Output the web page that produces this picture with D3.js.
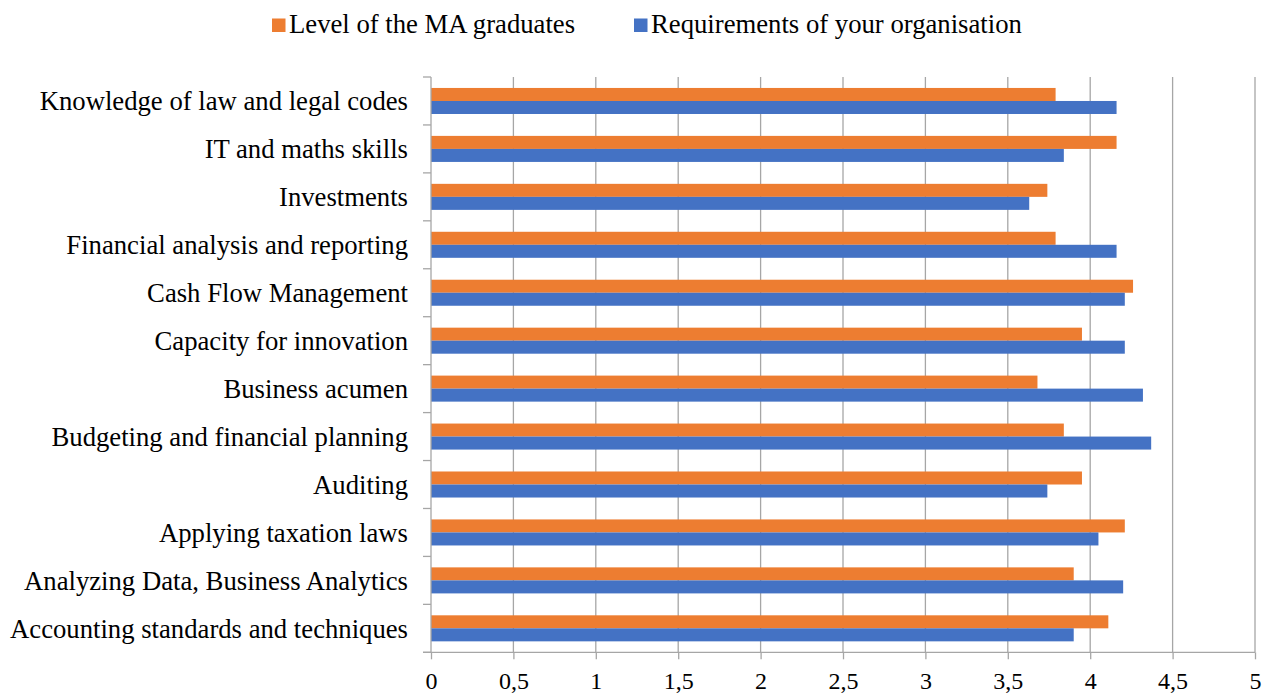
<!DOCTYPE html>
<html>
<head>
<meta charset="utf-8">
<script src="https://cdn.jsdelivr.net/npm/d3@7"></script>
<style>
  body { margin: 0; background: #fff; }
  text { font-family: "Liberation Serif", "Times New Roman", serif; fill: #000; }
</style>
</head>
<body>
<div id="chart"></div>
<script>
////////////////////////////////////////////////////////////////////////
// Chart data, top to bottom as shown
////////////////////////////////////////////////////////////////////////
var categories = [
  "Knowledge of law and legal codes",
  "IT and maths skills ",
  "Investments",
  "Financial analysis and reporting",
  "Cash Flow Management",
  "Capacity for innovation",
  "Business acumen ",
  "Budgeting and financial planning",
  "Auditing ",
  "Applying taxation laws ",
  "Analyzing Data, Business Analytics",
  "Accounting standards and techniques"
];
var seriesNames = ["Level of the MA graduates", "Requirements of your organisation"];
var levelValues = [3.79, 4.16, 3.74, 3.79, 4.26, 3.95, 3.68, 3.84, 3.95, 4.21, 3.90, 4.11];
var requiredValues = [4.16, 3.84, 3.63, 4.16, 4.21, 4.21, 4.32, 4.37, 3.74, 4.05, 4.20, 3.90];
var tickValues = [0, 0.5, 1, 1.5, 2, 2.5, 3, 3.5, 4, 4.5, 5];
var seriesColors = ["#ED7D31", "#4472C4"];

var width = 1263, height = 695;
var margin = {top: 77, right: 8, bottom: 43, left: 431};

var svg = d3.select("#chart").append("svg")
  .attr("width", width)
  .attr("height", height);

var x = d3.scaleLinear().domain([0, 5]).range([margin.left, 1255]);
var y = d3.scaleBand().domain(categories)
  .range([margin.top, height - margin.bottom + 0.3])
  .paddingInner(0.457).paddingOuter(0.2285);
var ySub = d3.scaleBand().domain(seriesNames).range([0, y.bandwidth()]);

var gridColor = "#a6a6a6";
var plotTop = y.range()[0], plotBottom = y.range()[1];

// vertical gridlines
svg.append("g").selectAll("line")
  .data(tickValues.slice(1))
  .enter().append("line")
  .attr("x1", d => x(d)).attr("x2", d => x(d))
  .attr("y1", plotTop).attr("y2", plotBottom)
  .attr("stroke", gridColor).attr("stroke-width", 1.3);

// bars
var rows = categories.map((c, i) => ({cat: c, vals: [levelValues[i], requiredValues[i]]}));
var rowG = svg.append("g").selectAll("g")
  .data(rows).enter().append("g")
  .attr("transform", d => "translate(0," + y(d.cat) + ")");
rowG.selectAll("rect")
  .data(d => d.vals.map((v, k) => ({name: seriesNames[k], v: v, k: k})))
  .enter().append("rect")
  .attr("x", x(0))
  .attr("y", d => ySub(d.name))
  .attr("width", d => x(d.v) - x(0))
  .attr("height", ySub.bandwidth())
  .attr("fill", d => seriesColors[d.k]);

// left axis line and category ticks
svg.append("line")
  .attr("x1", x(0)).attr("x2", x(0))
  .attr("y1", plotTop).attr("y2", plotBottom)
  .attr("stroke", gridColor).attr("stroke-width", 1.3);
var bounds = d3.range(categories.length + 1).map(i => plotTop + i * y.step());
svg.append("g").selectAll("line")
  .data(bounds).enter().append("line")
  .attr("x1", x(0) - 8).attr("x2", x(0))
  .attr("y1", d => d).attr("y2", d => d)
  .attr("stroke", gridColor).attr("stroke-width", 1.3);

// category labels
svg.append("g").selectAll("text")
  .data(categories).enter().append("text")
  .attr("x", 408)
  .attr("y", d => y(d) + y.bandwidth() / 2)
  .attr("dy", "0.35em")
  .attr("text-anchor", "end")
  .style("font-size", "26.7px")
  .text(d => d);

// bottom axis
var xAxis = d3.axisBottom(x)
  .tickValues(tickValues)
  .tickSize(7)
  .tickPadding(13)
  .tickFormat(d => String(d).replace(".", ","));
var axG = svg.append("g")
  .attr("transform", "translate(0," + plotBottom + ")")
  .call(xAxis);
axG.select(".domain").remove();
axG.append("line")
  .attr("x1", x(0) - 8).attr("x2", x(5))
  .attr("stroke", gridColor).attr("stroke-width", 1.3);
axG.selectAll(".tick line").attr("stroke", gridColor).attr("stroke-width", 1.3);
axG.selectAll(".tick text")
  .style("font-size", "24px")
  .style("font-family", "'Liberation Serif', 'Times New Roman', serif")
  .attr("fill", "#000");

// legend
var legendX = [272, 634];
var legend = svg.append("g").selectAll("g")
  .data(seriesNames).enter().append("g")
  .attr("transform", (d, i) => "translate(" + legendX[i] + ",0)");
legend.append("rect")
  .attr("x", 0).attr("y", 18.5)
  .attr("width", 13.5).attr("height", 13.5)
  .attr("fill", (d, i) => seriesColors[i]);
legend.append("text")
  .attr("x", 17).attr("y", 32.5)
  .style("font-size", "26.7px")
  .text(d => d);
</script>
</body>
</html>
